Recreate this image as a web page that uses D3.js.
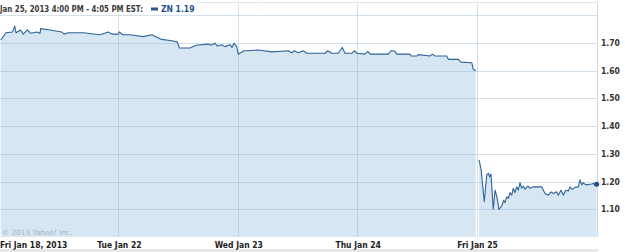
<!DOCTYPE html>
<html><head><meta charset="utf-8">
<script src="https://cdn.jsdelivr.net/npm/d3@7"></script>
<style>html,body{margin:0;padding:0;background:#fff;}svg{display:block;}</style>
</head><body>
<svg id="c" width="625" height="252"></svg>
<script>
// x: trading-day position (0 = Fri Jan 18 open ... 5 = Fri Jan 25 close)
const seg1T = [0.006,0.050,0.106,0.123,0.134,0.173,0.195,0.229,0.257,0.307,0.335,0.341,0.419,0.517,0.536,0.572,0.698,0.838,0.907,0.936,0.991,0.999,1.028,1.089,1.200,1.271,1.354,1.438,1.485,1.502,1.591,1.642,1.745,1.765,1.801,1.820,1.857,1.884,1.926,1.943,1.960,1.982,1.996,2.016,2.044,2.066,2.163,2.276,2.415,2.443,2.465,2.498,2.540,2.569,2.722,2.745,2.778,2.833,2.867,2.889,2.946,2.967,2.990,3.057,3.080,3.101,3.252,3.275,3.308,3.322,3.434,3.442,3.490,3.503,3.601,3.621,3.643,3.741,3.755,3.838,3.861,3.951,3.964,3.984];
const seg1V = [1.711,1.737,1.740,1.761,1.737,1.747,1.732,1.747,1.735,1.740,1.735,1.752,1.747,1.740,1.732,1.737,1.737,1.730,1.740,1.732,1.732,1.740,1.730,1.730,1.723,1.730,1.713,1.708,1.704,1.682,1.682,1.692,1.696,1.692,1.699,1.689,1.694,1.687,1.694,1.684,1.699,1.687,1.660,1.665,1.672,1.672,1.675,1.668,1.672,1.665,1.672,1.665,1.672,1.663,1.663,1.672,1.663,1.663,1.684,1.663,1.663,1.672,1.663,1.660,1.670,1.660,1.660,1.672,1.670,1.660,1.660,1.653,1.653,1.658,1.653,1.660,1.653,1.653,1.641,1.641,1.631,1.629,1.605,1.600];
const seg2T = [4.012,4.028,4.056,4.076,4.090,4.101,4.112,4.131,4.146,4.162,4.179,4.202,4.219,4.229,4.244,4.257,4.271,4.286,4.299,4.313,4.327,4.341,4.355,4.369,4.383,4.397,4.420,4.439,4.467,4.537,4.564,4.592,4.615,4.634,4.662,4.676,4.698,4.718,4.738,4.760,4.774,4.793,4.816,4.843,4.858,4.872,4.885,4.905,4.956,4.969,4.983,4.997];
const seg2V = [1.278,1.248,1.127,1.223,1.230,1.217,1.227,1.100,1.169,1.145,1.100,1.112,1.133,1.124,1.145,1.139,1.160,1.151,1.176,1.160,1.181,1.169,1.196,1.176,1.184,1.172,1.184,1.176,1.181,1.181,1.157,1.151,1.163,1.157,1.163,1.151,1.169,1.151,1.169,1.166,1.181,1.172,1.179,1.181,1.206,1.188,1.196,1.188,1.191,1.193,1.188,1.191];
const dayTicks = [0,1,2,3,4];
const dayLabels = ["Fri Jan 18, 2013","Tue Jan 22","Wed Jan 23","Thu Jan 24","Fri Jan 25"];
const yTicks = [1.10,1.20,1.30,1.40,1.50,1.60,1.70];
const yGrid = [1.10,1.20,1.30,1.40,1.50,1.60,1.70,1.80];
const headerText = "Jan 25, 2013 4:00 PM - 4:05 PM EST:";
const legendText = "ZN 1.19";
const lastValue = 1.19;

const svg = d3.select("#c");
const L = 0, R = 597, T = 2, B = 237;
const x = d3.scaleLinear().domain([0,5]).range([L,R]);
const y = d3.scaleLinear().domain([1.0,1.8]).range([B,15.3]);
const FF = "DejaVu Sans Condensed, DejaVu Sans, sans-serif";

const segs = [d3.zip(seg1T, seg1V), d3.zip(seg2T, seg2V)];

// bottom gray band
svg.append("rect").attr("x",0).attr("y",249).attr("width",598).attr("height",3).attr("fill","#e8e8e8");

const area = d3.area().x(d=>x(d[0])).y0(B).y1(d=>y(d[1]));
const line = d3.line().x(d=>x(d[0])).y(d=>y(d[1]));
segs.forEach(s=>{
  svg.append("path").attr("d",area(s)).attr("fill","#d6e6f2");
});

// grid
const gridC = "rgba(140,175,205,0.38)";
svg.append("g").selectAll("line").data(yGrid).join("line")
  .attr("x1",L).attr("x2",R).attr("y1",d=>Math.round(y(d))+0.5).attr("y2",d=>Math.round(y(d))+0.5)
  .attr("stroke",gridC).attr("stroke-width",1);
svg.append("g").selectAll("line").data(dayTicks.slice(1)).join("line")
  .attr("x1",d=>Math.round(x(d))-0.5).attr("x2",d=>Math.round(x(d))-0.5).attr("y1",T).attr("y2",B)
  .attr("stroke",gridC).attr("stroke-width",1);
// frame: top and right
svg.append("line").attr("x1",0).attr("x2",R+0.5).attr("y1",T+0.5).attr("y2",T+0.5).attr("stroke","#dfe5ea");
svg.append("line").attr("x1",R+0.5).attr("x2",R+0.5).attr("y1",T).attr("y2",B).attr("stroke","#cdd9e3");

// line
segs.forEach(s=>{
  svg.append("path").attr("d",line(s)).attr("fill","none").attr("stroke","#2f6399").attr("stroke-width",1.1).attr("stroke-linejoin","round");
});
svg.append("circle").attr("cx",x(seg2T[seg2T.length-1])).attr("cy",y(lastValue)).attr("r",2.5).attr("fill","#1d4f8a");

// copyright
svg.append("text").attr("x",2).attr("y",234.5).attr("font-family","DejaVu Sans, sans-serif").attr("font-size",7.3).attr("fill","#a3b2bf").text("\u00a9 2013 Yahoo! Inc.");

// header
svg.append("rect").attr("x",0).attr("y",0).attr("width",196).attr("height",14).attr("fill","#fff");
svg.append("text").attr("x",0).attr("y",11.5).attr("font-family",FF).attr("font-size",8).attr("font-weight","bold").attr("fill","#3a3a3a")
  .attr("textLength",143).attr("lengthAdjust","spacingAndGlyphs").text(headerText);
svg.append("rect").attr("x",151).attr("y",7.5).attr("width",7).attr("height",3).attr("fill","#2a5a94");
svg.append("text").attr("x",161).attr("y",11.5).attr("font-family",FF).attr("font-size",8.5).attr("font-weight","bold").attr("fill","#1f4f8c").text(legendText);

// y labels
svg.append("g").selectAll("text").data(yTicks).join("text")
  .attr("x",601).attr("y",d=>y(d)+3).attr("font-family",FF)
  .attr("font-size",8.5).attr("font-weight","bold").attr("fill","#333").text(d=>d.toFixed(2));

// x labels
svg.append("g").selectAll("text").data(dayTicks).join("text")
  .attr("x",d=>d===0?0:x(d)).attr("y",247.5).attr("text-anchor",d=>d===0?"start":"middle")
  .attr("font-family",FF)
  .attr("font-size",8.5).attr("font-weight","bold").attr("fill","#222").text((d,i)=>dayLabels[i]);
</script>
</body></html>
